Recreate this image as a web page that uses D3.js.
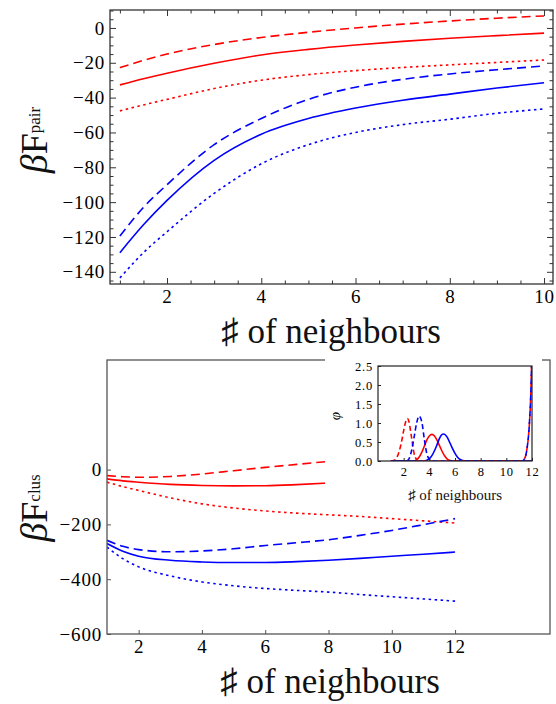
<!DOCTYPE html>
<html>
<head>
<meta charset="utf-8">
<script src="https://cdn.jsdelivr.net/npm/d3@7"></script>
<style>
body { margin: 0; background: #fff; }
svg { display: block; }
</style>
</head>
<body>
<script>
// ---- top panel: beta F_pair vs # of neighbours
const pairX = [1, 1.5, 2, 3, 4, 5, 6, 7, 8, 9, 10];
const pairRedDash = [-22.8, -18.6, -15, -9.5, -5.5, -2.5, 0, 2.2, 4, 5.6, 6.9];
const pairRedSolid = [-32.7, -29.2, -26, -20.3, -15.5, -12.3, -9.8, -7.7, -5.9, -4.4, -3];
const pairRedDot = [-47.6, -44.2, -41, -34.8, -30, -26.8, -24.5, -22.7, -21.2, -19.8, -18.4];
const pairBlueDash = [-119.5, -103, -90, -67, -52, -41, -34, -29.5, -26.4, -24, -21.8];
const pairBlueSolid = [-129, -113, -99, -76, -61, -52, -46, -41.5, -38, -34.5, -31.5];
const pairBlueDot = [-143.5, -129, -117, -95, -78, -67, -60, -55.5, -52.4, -49, -46.5];
const pairXTicks = [2, 4, 6, 8, 10];
const pairYTicks = [-140, -120, -100, -80, -60, -40, -20, 0];

// ---- bottom panel: beta F_clus vs # of neighbours
const clusX = [1, 1.5, 2, 3, 4, 5, 6, 7, 8, 9, 10, 11, 12];
const clusRedDash = [-22, -26, -28, -25, -16, -4, 8, 19, 30];
const clusRedSolid = [-34, -41, -46, -54, -58, -59.5, -59, -55, -49];
const clusRedDot = [-46, -62, -76, -103, -125, -140, -151, -159, -165, -171, -179, -187, -195];
const clusBlueDash = [-258, -280, -292, -300, -297, -289, -277, -267, -256, -240, -222, -201, -179];
const clusBlueSolid = [-270, -298, -316, -331, -337, -339, -339, -336, -331, -324, -316, -309, -301];
const clusBlueDot = [-283, -325, -355, -388, -410, -424, -434, -441, -447, -456, -464, -472, -480];
const clusXTicks = [2, 4, 6, 8, 10, 12];
const clusYTicks = [-600, -400, -200, 0];

// ---- inset: distribution phi
const insRedDashX = [1, 1.2, 1.4, 1.6, 1.8, 2, 2.2, 2.3, 2.4, 2.6, 2.8, 3, 3.2, 6, 9, 11.2, 11.4, 11.6, 11.8, 11.9, 12];
const insRedDash = [0, 0.01, 0.06, 0.2, 0.45, 0.8, 1.08, 1.12, 1.05, 0.65, 0.22, 0.04, 0, 0, 0, 0, 0.05, 0.3, 1.0, 1.7, 3];
const insBlueDashX = [1, 2.2, 2.4, 2.6, 2.8, 3, 3.2, 3.4, 3.6, 3.8, 4, 4.2, 7, 9, 11.2, 11.4, 11.6, 11.8, 11.9, 12];
const insBlueDash = [0, 0, 0.05, 0.25, 0.6, 0.98, 1.18, 1.05, 0.6, 0.2, 0.04, 0, 0, 0, 0, 0.05, 0.3, 1.0, 1.7, 3];
const insRedSolidX = [1, 2.8, 3, 3.2, 3.4, 3.6, 3.8, 4, 4.2, 4.4, 4.6, 4.8, 5, 5.2, 5.4, 5.6, 5.8, 12];
const insRedSolid = [0, 0, 0.03, 0.1, 0.22, 0.38, 0.55, 0.66, 0.7, 0.66, 0.55, 0.4, 0.25, 0.13, 0.05, 0.01, 0, 0];
const insBlueSolidX = [1, 3.6, 3.8, 4, 4.2, 4.4, 4.6, 4.8, 5, 5.1, 5.2, 5.4, 5.6, 5.8, 6, 6.2, 6.4, 6.6, 6.8, 12];
const insBlueSolid = [0, 0, 0.02, 0.06, 0.14, 0.27, 0.43, 0.6, 0.7, 0.71, 0.7, 0.62, 0.48, 0.33, 0.2, 0.1, 0.04, 0.01, 0, 0];
const insXTicks = [2, 4, 6, 8, 10, 12];
const insYTicks = [0, 0.5, 1, 1.5, 2, 2.5];

const red = "#ff0000", blue = "#0000ff";
const dashed = "9,5", dotted = "2.5,3.5";
const serif = "'Liberation Serif', 'Times New Roman', serif";

let svg = d3.select("body").append("svg")
	.attr("width", 556)
	.attr("height", 704);

function zip(xs, ys) {
	return ys.map(function (y, i) { return [xs[i], y]; });
}

function drawLines(g, x, y, series, clipId, curve) {
	let line = d3.line()
		.x(function (d) { return x(d[0]); })
		.y(function (d) { return y(d[1]); })
		.curve(curve);
	g.append("g")
		.attr("clip-path", "url(#" + clipId + ")")
		.selectAll("path")
		.data(series)
		.enter().append("path")
		.attr("d", function (s) { return line(s.pts); })
		.attr("fill", "none")
		.attr("stroke", function (s) { return s.color; })
		.attr("stroke-width", 1.6)
		.attr("stroke-dasharray", function (s) { return s.dash; });
}

function clip(id, x, y) {
	svg.append("clipPath").attr("id", id)
		.append("rect")
		.attr("x", x.range()[0]).attr("y", y.range()[1])
		.attr("width", x.range()[1] - x.range()[0])
		.attr("height", y.range()[0] - y.range()[1]);
}

function frame(x, y, color, w) {
	svg.append("rect")
		.attr("x", x.range()[0]).attr("y", y.range()[1])
		.attr("width", x.range()[1] - x.range()[0])
		.attr("height", y.range()[0] - y.range()[1])
		.attr("fill", "none")
		.attr("stroke", color)
		.attr("stroke-width", w);
}

function styleAxis(g, color, size, spacing) {
	g.attr("font-family", serif).attr("font-size", size);
	g.select(".domain").remove();
	g.selectAll(".tick line").attr("stroke", color);
	g.selectAll(".tick text")
		.attr("fill", "#000")
		.style("font-family", serif)
		.style("font-size", size + "px")
		.style("letter-spacing", (spacing || 0) + "px");
}

// ================= top panel =================
let x1 = d3.scaleLinear().domain([0.79, 10.19]).range([110, 553]);
let y1 = d3.scaleLinear().domain([-147, 10.3]).range([284, 10]);
let minorX1 = d3.range(1, 10.01, 0.5).filter(function (v) { return v % 2 !== 0; });
let minorY1 = d3.range(-145, 10.1, 5).filter(function (v) { return v % 20 !== 0; });
let c1 = "#333";

clip("clip1", x1, y1);
drawLines(svg, x1, y1, [
	{ pts: zip(pairX, pairRedDash), color: red, dash: dashed },
	{ pts: zip(pairX, pairRedSolid), color: red, dash: null },
	{ pts: zip(pairX, pairRedDot), color: red, dash: dotted },
	{ pts: zip(pairX, pairBlueDash), color: blue, dash: dashed },
	{ pts: zip(pairX, pairBlueSolid), color: blue, dash: null },
	{ pts: zip(pairX, pairBlueDot), color: blue, dash: dotted }
], "clip1", d3.curveMonotoneX);

svg.append("g").attr("transform", "translate(0,284)")
	.call(d3.axisBottom(x1).tickValues(pairXTicks).tickSize(-6).tickPadding(6).tickFormat(d3.format("d")))
	.call(styleAxis, c1, 19, 0.8);
svg.append("g").attr("transform", "translate(0,284)")
	.call(d3.axisBottom(x1).tickValues(minorX1).tickSize(-3.5).tickFormat(""))
	.call(styleAxis, c1, 19);
svg.append("g").attr("transform", "translate(0,10)")
	.call(d3.axisTop(x1).tickValues(pairXTicks).tickSize(-6).tickFormat(""))
	.call(styleAxis, c1, 19);
svg.append("g").attr("transform", "translate(0,10)")
	.call(d3.axisTop(x1).tickValues(minorX1).tickSize(-3.5).tickFormat(""))
	.call(styleAxis, c1, 19);
svg.append("g").attr("transform", "translate(110,0)")
	.call(d3.axisLeft(y1).tickValues(pairYTicks).tickSize(-6).tickPadding(5))
	.call(styleAxis, c1, 19, 0.8);
svg.append("g").attr("transform", "translate(110,0)")
	.call(d3.axisLeft(y1).tickValues(minorY1).tickSize(-3.5).tickFormat(""))
	.call(styleAxis, c1, 19);
svg.append("g").attr("transform", "translate(553,0)")
	.call(d3.axisRight(y1).tickValues(pairYTicks).tickSize(-6).tickFormat(""))
	.call(styleAxis, c1, 19);
svg.append("g").attr("transform", "translate(553,0)")
	.call(d3.axisRight(y1).tickValues(minorY1).tickSize(-3.5).tickFormat(""))
	.call(styleAxis, c1, 19);
frame(x1, y1, c1, 1.3);

// ================= bottom panel =================
let x2 = d3.scaleLinear().domain([1, 15]).range([107, 550]);
let y2 = d3.scaleLinear().domain([-600, 400]).range([634, 360]);
let c2 = "#555";

clip("clip2", x2, y2);
drawLines(svg, x2, y2, [
	{ pts: zip(clusX, clusRedDash), color: red, dash: dashed },
	{ pts: zip(clusX, clusRedSolid), color: red, dash: null },
	{ pts: zip(clusX, clusRedDot), color: red, dash: dotted },
	{ pts: zip(clusX, clusBlueDash), color: blue, dash: dashed },
	{ pts: zip(clusX, clusBlueSolid), color: blue, dash: null },
	{ pts: zip(clusX, clusBlueDot), color: blue, dash: dotted }
], "clip2", d3.curveMonotoneX);

svg.append("g").attr("transform", "translate(0,634)")
	.call(d3.axisBottom(x2).tickValues(clusXTicks).tickSize(-4).tickPadding(6).tickFormat(d3.format("d")))
	.call(styleAxis, c2, 19, 0.8);
svg.append("g").attr("transform", "translate(107,0)")
	.call(d3.axisLeft(y2).tickValues(clusYTicks).tickSize(-4).tickPadding(5))
	.call(styleAxis, c2, 19, 0.8);
frame(x2, y2, c2, 1.3);

// ================= inset =================
svg.append("rect")
	.attr("x", 325).attr("y", 345)
	.attr("width", 217).attr("height", 163)
	.attr("fill", "#fff");

let x3 = d3.scaleLinear().domain([0, 12]).range([378, 532]);
let y3 = d3.scaleLinear().domain([0, 2.5]).range([461, 366]);

clip("clip3", x3, y3);
drawLines(svg, x3, y3, [
	{ pts: zip(insRedSolidX, insRedSolid), color: red, dash: null },
	{ pts: zip(insBlueSolidX, insBlueSolid), color: blue, dash: null },
	{ pts: zip(insRedDashX, insRedDash), color: red, dash: "5,3" },
	{ pts: zip(insBlueDashX, insBlueDash), color: blue, dash: "5,3" }
], "clip3", d3.curveMonotoneX);

svg.append("g").attr("transform", "translate(0,461)")
	.call(d3.axisBottom(x3).tickValues(insXTicks).tickSize(-3).tickPadding(6).tickFormat(d3.format("d")))
	.call(styleAxis, "#222", 12.5, 0.8);
svg.append("g").attr("transform", "translate(378,0)")
	.call(d3.axisLeft(y3).tickValues(insYTicks).tickSize(-3).tickPadding(5).tickFormat(d3.format(".1f")))
	.call(styleAxis, "#222", 12.5, 0.8);
frame(x3, y3, "#222", 1.2);

// ================= axis titles =================
function yTitle(cx, cy, sub) {
	let t = svg.append("text")
		.attr("transform", "translate(" + cx + "," + cy + ") rotate(-90)")
		.attr("text-anchor", "middle")
		.style("font-family", serif)
		.style("font-size", "38px")
		.attr("fill", "#111");
	t.append("tspan").style("font-style", "italic").text("β");
	t.append("tspan").text("F");
	t.append("tspan").style("font-size", "17px").attr("dy", -7).text(sub);
}
yTitle(47, 140, "pair");
yTitle(47, 508, "clus");

function xTitle(cx, cy, size) {
	svg.append("text")
		.attr("x", cx).attr("y", cy)
		.attr("text-anchor", "middle")
		.style("font-family", serif)
		.style("font-size", size + "px")
		.attr("fill", "#111")
		.text("♯ of neighbours");
}
xTitle(331, 343, 35);
xTitle(330, 693, 35);
xTitle(455, 500, 15);

svg.append("text")
	.attr("transform", "translate(340,416) rotate(-90)")
	.attr("text-anchor", "middle")
	.style("font-family", serif)
	.style("font-style", "italic")
	.style("font-size", "15px")
	.attr("fill", "#111")
	.text("φ");
</script>
</body>
</html>
